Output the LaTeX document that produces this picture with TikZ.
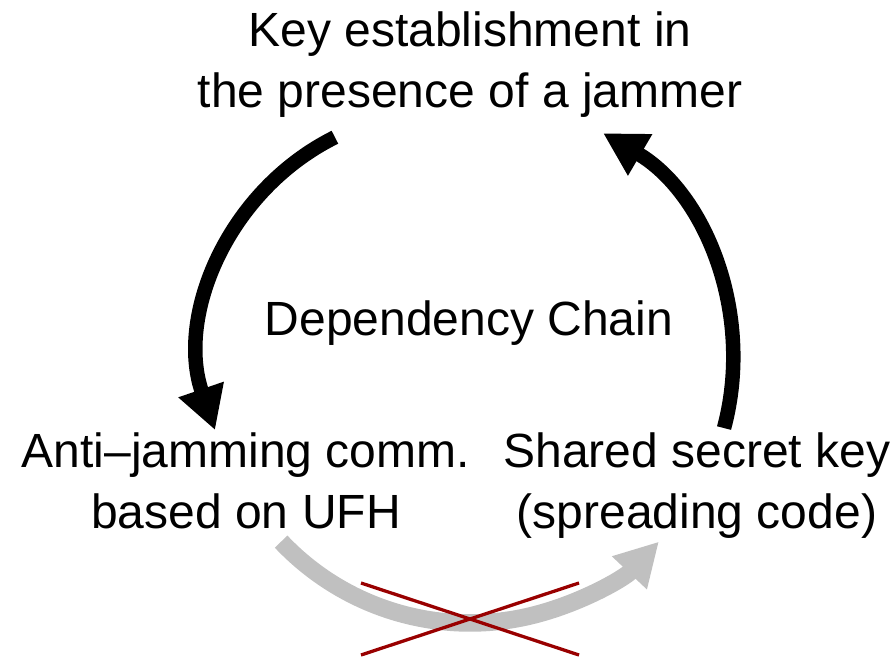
\documentclass[tikz,border=0pt]{standalone}
\usepackage{fontspec}
\setmainfont{Liberation Sans}
\usetikzlibrary{arrows.meta}
\definecolor{crossred}{RGB}{153,0,0}
\definecolor{palegrey}{RGB}{192,192,192}
\begin{document}
\begin{tikzpicture}[x=1pt,y=1pt,
  txt/.style={font=\fontsize{48}{60.5}\selectfont, align=center, inner sep=0pt, anchor=base},
  chainarrow/.style={line width=14.5pt, -{Triangle[length=43pt,width=45pt]}},
  greyarrow/.style={draw=palegrey, line width=17.5pt, -{Triangle[length=43pt,width=45pt]}},
  crossline/.style={draw=crossred, line width=3.3pt}]
\useasboundingbox (0,0) rectangle (895,-658);

% the three stages of the chain and its title (placed by the last baseline)
\node[txt] (key) at (470,-107.5) {Key establishment in\\the presence of a jammer};
\node[txt] (ufh) at (246,-528) {Anti\textendash jamming comm.\\based on UFH};
\node[txt] (secret) at (697,-528) {Shared secret key\\(spreading code)};
\node[txt] (dep) at (469,-335) {Dependency Chain};

% black arcs of the dependency cycle
\coordinate (downStart) at ([shift={(116.5:240)}]442,-352);
\draw[chainarrow] (downStart) arc[start angle=116.5, end angle=199, radius=240];
\coordinate (upStart) at ([shift={(-15:263)}]470,-360);
\draw[chainarrow] (upStart) arc[start angle=-15, end angle=59.6, radius=263];

% the link that does not exist, crossed out
\coordinate (greyStart) at ([shift={(223.4:260)}]470,-363);
\draw[greyarrow] (greyStart) arc[start angle=223.4, end angle=316.6, radius=260];
\coordinate (xa) at (361,-583);
\coordinate (xb) at (579,-655);
\coordinate (xc) at (361,-655);
\coordinate (xd) at (579,-583);
\draw[crossline] (xa) -- (xb);
\draw[crossline] (xc) -- (xd);
\end{tikzpicture}
\end{document}
